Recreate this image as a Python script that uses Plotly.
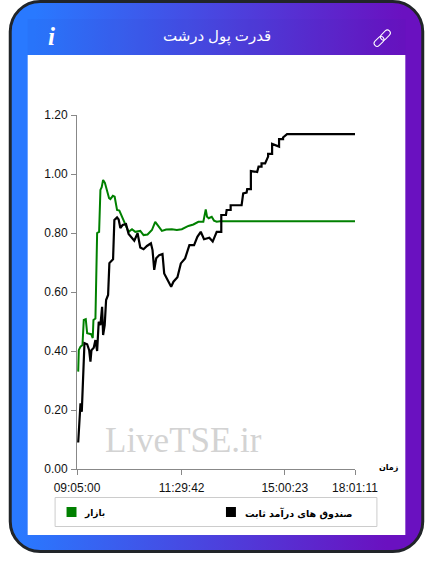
import base64
import plotly.graph_objects as go

# values; x is the position along the (uneven) time axis
tick_pos = [0, 105, 208.5, 279]
tick_times = ['09:05:00', '11:29:42', '15:00:23', '18:01:11']
y_ticks = [0, 0.2, 0.4, 0.6, 0.8, 1.0, 1.2]

market_x = [1.2, 1.8, 3.5, 5.5, 6.8, 8.8, 10.2, 14.2, 15.8, 16.5, 18.5, 18.8, 20.2, 22.2, 23.5, 24.8, 26.2, 28,
            30.2, 32.2, 33.5, 36, 37.8, 40.2, 42.5, 45.2, 48.5, 51.8, 55.2, 58.5, 63.5, 66.8, 70.8, 75.2, 78.5,
            81.8, 85.2, 89.5, 95.2, 100.2, 105.2, 111.8, 116.8, 121.8, 126.8, 129.2, 130.5, 132.2, 135.2, 137.5,
            140.2, 143.5, 279]
market_y = [0.33, 0.403, 0.415, 0.42, 0.505, 0.508, 0.46, 0.457, 0.444, 0.505, 0.51, 0.596, 0.80, 0.804, 0.946,
            0.955, 0.98, 0.97, 0.94, 0.918, 0.915, 0.926, 0.923, 0.878, 0.876, 0.855, 0.833, 0.804, 0.813, 0.804,
            0.807, 0.793, 0.795, 0.81, 0.838, 0.821, 0.807, 0.812, 0.813, 0.81, 0.813, 0.824, 0.829, 0.838, 0.838,
            0.88, 0.855, 0.85, 0.855, 0.842, 0.838, 0.84, 0.84]

fund_x = [1.2, 3.5, 4.8, 6.2, 7.5, 10.2, 12.2, 13.5, 14.5, 16.8, 18.5, 20.2, 21.8, 23.5, 25.2, 26.2, 27.8, 29.2,
          31.2, 32.5, 36.2, 37.5, 40.2, 41.8, 43.5, 45.8, 49.2, 51.8, 55.2, 57.5, 60.8, 63.5, 66.8, 70.2, 74.2,
          75.8, 77.5, 79.5, 82.5, 85.8, 87.5, 90.8, 94.5, 96.8, 100.8, 104.2, 108.5, 112.8, 117.5, 120.8, 124.2,
          127.5, 130.2, 132.8, 136.2, 140.2, 144.8, 144.8, 149.5, 150.2, 154.2, 154.2, 165.2, 166.8, 170.2, 170.8,
          174.5, 174.5, 180.8, 182.2, 185.2, 185.2, 188.8, 191.8, 191.8, 195.8, 195.8, 202.8, 202.8, 206.8, 206.8,
          210.8, 279]
fund_y = [0.09, 0.223, 0.194, 0.308, 0.427, 0.423, 0.403, 0.364, 0.403, 0.411, 0.437, 0.40, 0.499, 0.488, 0.55,
          0.454, 0.488, 0.573, 0.59, 0.698, 0.711, 0.844, 0.853, 0.846, 0.817, 0.827, 0.83, 0.797, 0.784, 0.774,
          0.799, 0.751, 0.745, 0.756, 0.765, 0.742, 0.675, 0.714, 0.725, 0.729, 0.663, 0.641, 0.618, 0.635, 0.65,
          0.697, 0.714, 0.759, 0.759, 0.787, 0.804, 0.779, 0.782, 0.784, 0.771, 0.804, 0.804, 0.861, 0.861, 0.878,
          0.878, 0.894, 0.894, 0.934, 0.937, 0.949, 0.949, 1.01, 1.007, 1.025, 1.025, 1.036, 1.036, 1.059, 1.068,
          1.068, 1.102, 1.093, 1.118, 1.118, 1.124, 1.135, 1.135]

W, H = 433, 574
L, R, T, B = 76.5, 355.5, 115, 469


def px(x):
    return (x - L) / (R - L)


def py(y):
    return (B - y) / (B - T)


card = f'''<svg xmlns="http://www.w3.org/2000/svg" width="{W}" height="{H}" viewBox="0 0 {W} {H}">
<defs><linearGradient id="g" x1="0" y1="0" x2="1" y2="0.04">
<stop offset="0.06" stop-color="#2979ff"/><stop offset="0.95" stop-color="#6a11c0"/></linearGradient></defs>
<rect x="9.5" y="1.5" width="414" height="550" rx="30" fill="url(#g)" stroke="#212529" stroke-width="3"/>
<rect x="27" y="19" width="379" height="36" fill="#3030a0" fill-opacity="0.05"/>
<rect x="27" y="55" width="379" height="480" fill="#ffffff"/>
<g transform="rotate(-45 383 38)" fill="none" stroke="#ffffff" stroke-width="1">
<rect x="372.5" y="35" width="11.5" height="6" rx="3"/><rect x="381.5" y="35" width="11.5" height="6" rx="3"/>
</g></svg>'''
card_uri = 'data:image/svg+xml;base64,' + base64.b64encode(card.encode()).decode()

fig = go.Figure()
fig.add_trace(go.Scatter(x=market_x, y=market_y, mode='lines', name='بازار',
                         line=dict(color='#008000', width=2)))
fig.add_trace(go.Scatter(x=fund_x, y=fund_y, mode='lines', name='صندوق های درآمد ثابت',
                         line=dict(color='#000000', width=2.2)))

axis_font = dict(family='Liberation Sans', size=12, color='#111111')
fig.update_xaxes(range=[0, 279], tickvals=tick_pos, ticktext=tick_times, showgrid=False, zeroline=False,
                 showline=True, linecolor='#888888', linewidth=1, ticks='outside', ticklen=5,
                 tickcolor='#888888', tickfont=axis_font, ticklabelstandoff=3)
fig.update_yaxes(range=[0, 1.2], tickvals=y_ticks, tickformat='.2f', showgrid=False, zeroline=False,
                 showline=True, linecolor='#888888', linewidth=1, ticks='outside', ticklen=5,
                 tickcolor='#888888', tickfont=axis_font, ticklabelstandoff=1)

shapes = [
    dict(type='rect', xref='paper', yref='paper', x0=px(54.5), x1=px(377.5), y0=py(526.5), y1=py(497.5),
         line=dict(color='#cccccc', width=1), fillcolor='rgba(0,0,0,0)'),
    dict(type='rect', xref='paper', yref='paper', x0=px(66), x1=px(76), y0=py(517), y1=py(507),
         line=dict(width=0), fillcolor='#008000'),
    dict(type='rect', xref='paper', yref='paper', x0=px(226), x1=px(236), y0=py(517), y1=py(507),
         line=dict(width=0), fillcolor='#000000'),
]


def label(x, y, text, size, color='#111111', family='DejaVu Sans', anchor='center'):
    return dict(xref='paper', yref='paper', x=px(x), y=py(y), text=text, showarrow=False, xanchor=anchor,
                yanchor='middle', font=dict(family=family, size=size, color=color))


annotations = [
    label(217, 35, 'قدرت پول درشت', 15, '#ffffff', 'Noto Sans, DejaVu Sans'),
    label(51, 37, '<b><i>i</i></b>', 25, '#ffffff', 'Liberation Serif'),
    label(183, 440, 'LiveTSE.ir', 35, '#d3d3d3', 'Liberation Serif'),
    label(390, 467, '<b>زمان</b>', 8, '#000000'),
    label(94, 513, '<b>بازار</b>', 9, '#000000'),
    label(299, 513, '<b>صندوق های درآمد ثابت</b>', 9.5, '#000000'),
]

fig.update_layout(
    width=W, height=H, autosize=False, showlegend=False,
    margin=dict(l=L, r=W - R, t=T, b=H - B, pad=0),
    paper_bgcolor='#ffffff', plot_bgcolor='rgba(0,0,0,0)',
    images=[dict(source=card_uri, xref='paper', yref='paper', x=px(0), y=py(0), sizex=W / (R - L),
                 sizey=H / (B - T), xanchor='left', yanchor='top', sizing='stretch', layer='below')],
    shapes=shapes, annotations=annotations,
)

fig.write_html('out.html', post_script="document.body.style.margin='0';", config={'displayModeBar': False})
